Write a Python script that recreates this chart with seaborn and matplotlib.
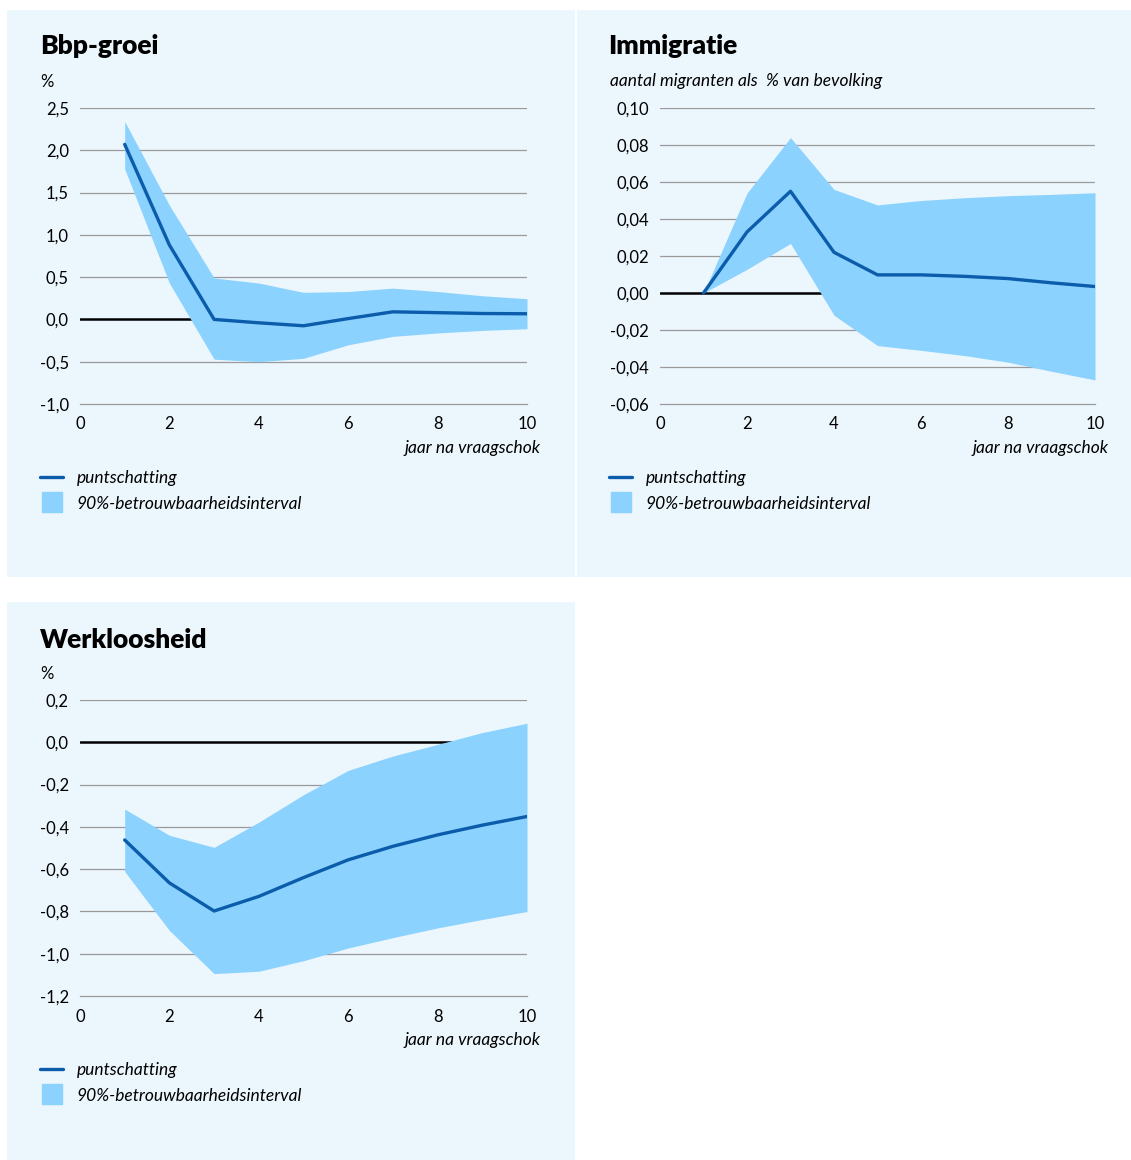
import numpy as np
import pandas as pd
import matplotlib
matplotlib.use('Agg')
import matplotlib.pyplot as plt
from matplotlib.patches import Rectangle
from matplotlib.lines import Line2D
import seaborn as sns

# data
jaar = [1, 2, 3, 4, 5, 6, 7, 8, 9, 10]

bbp_punt = [2.07, 0.88, 0.00, -0.04, -0.075, 0.01, 0.09, 0.08, 0.07, 0.067]
bbp_hoog = [2.34, 1.35, 0.49, 0.43, 0.32, 0.33, 0.37, 0.33, 0.28, 0.245]
bbp_laag = [1.78, 0.43, -0.47, -0.50, -0.46, -0.30, -0.20, -0.16, -0.13, -0.11]

imm_punt = [0.0, 0.033, 0.055, 0.022, 0.0098, 0.0098, 0.009, 0.0078, 0.0055, 0.0035]
imm_hoog = [0.0, 0.054, 0.084, 0.056, 0.0476, 0.050, 0.0515, 0.0526, 0.0533, 0.0542]
imm_laag = [0.0, 0.0128, 0.0268, -0.012, -0.0284, -0.031, -0.0338, -0.0374, -0.0423, -0.047]

wkl_punt = [-0.462, -0.665, -0.798, -0.729, -0.64, -0.556, -0.492, -0.438, -0.392, -0.351]
wkl_hoog = [-0.316, -0.44, -0.497, -0.378, -0.248, -0.133, -0.065, -0.01, 0.046, 0.09]
wkl_laag = [-0.611, -0.89, -1.094, -1.083, -1.033, -0.973, -0.924, -0.878, -0.838, -0.80]

x_ticks = [0, 2, 4, 6, 8, 10]
bbp_yticks = [2.5, 2.0, 1.5, 1.0, 0.5, 0.0, -0.5, -1.0]
bbp_ylabels = ['2,5', '2,0', '1,5', '1,0', '0,5', '0,0', '-0,5', '-1,0']
imm_yticks = [0.10, 0.08, 0.06, 0.04, 0.02, 0.0, -0.02, -0.04, -0.06]
imm_ylabels = ['0,10', '0,08', '0,06', '0,04', '0,02', '0,00', '-0,02', '-0,04', '-0,06']
wkl_yticks = [0.2, 0.0, -0.2, -0.4, -0.6, -0.8, -1.0, -1.2]
wkl_ylabels = ['0,2', '0,0', '-0,2', '-0,4', '-0,6', '-0,8', '-1,0', '-1,2']

sns.set_style('white')
plt.rcParams['font.family'] = ['Lato', 'DejaVu Sans']
plt.rcParams['text.color'] = 'black'
plt.rcParams['xtick.color'] = 'black'
plt.rcParams['ytick.color'] = 'black'

LINE = '#0B5CAB'
BAND = '#8BD2FE'
BG = '#EBF6FD'
GRID = '#9A9A9A'

W, H = 1131, 1160
fig = plt.figure(figsize=(W / 100, H / 100), dpi=100)


def px(x, y):
    return x / W, 1 - y / H


# panel backgrounds
for (x0, y0, x1, y1) in [(7, 10, 575, 577), (577, 10, 1131, 577), (7, 602, 575, 1160)]:
    fig.patches.append(Rectangle((x0 / W, 1 - y1 / H), (x1 - x0) / W, (y1 - y0) / H,
                                 transform=fig.transFigure, facecolor=BG,
                                 edgecolor='none', zorder=-5))


def panel(rect_px, punt, hoog, laag, yticks, ylabels):
    left, top, right, bottom = rect_px
    ax = fig.add_axes([left / W, 1 - bottom / H, (right - left) / W, (bottom - top) / H])
    ax.set_zorder(2)
    ax.patch.set_alpha(0)
    for yv in yticks[:-1]:
        if yv == 0:
            ax.axhline(0, color='black', lw=1.8, zorder=1)
        else:
            ax.axhline(yv, color=GRID, lw=0.9, zorder=1)
    ax.fill_between(jaar, laag, hoog, color=BAND, lw=0, zorder=2)
    df = pd.DataFrame({'jaar': jaar, 'waarde': punt})
    sns.lineplot(data=df, x='jaar', y='waarde', ax=ax, color=LINE, lw=2.4, zorder=3)
    ax.set_xlim(0, 10)
    ax.set_ylim(yticks[-1], yticks[0])
    ax.set_xticks(x_ticks)
    ax.set_xticklabels([str(t) for t in x_ticks], fontsize=12)
    ax.set_yticks(yticks)
    ax.set_yticklabels(ylabels, fontsize=12)
    ax.set_xlabel('')
    ax.set_ylabel('')
    for s in ['left', 'right', 'top']:
        ax.spines[s].set_visible(False)
    ax.spines['bottom'].set_color(GRID)
    ax.spines['bottom'].set_linewidth(0.9)
    ax.tick_params(axis='x', direction='out', length=6, width=0.9, color=GRID, pad=3)
    ax.tick_params(axis='y', length=0, pad=8)
    return ax


def legend(x, y):
    handles = [Line2D([], [], color=LINE, lw=2.4),
               Line2D([], [], color=BAND, marker='s', markersize=15, linestyle='none')]
    labels = ['puntschatting', '90%-betrouwbaarheidsinterval']
    fig.legend(handles, labels, loc='upper left', bbox_to_anchor=px(x, y),
               frameon=False, prop={'style': 'italic', 'size': 12.5},
               handlelength=1.35, handletextpad=0.75, labelspacing=0.55,
               borderaxespad=0, borderpad=0)


# Bbp-groei
panel((80, 108, 527, 404), bbp_punt, bbp_hoog, bbp_laag, bbp_yticks, bbp_ylabels)
fig.text(*px(40, 46), 'Bbp-groei', fontsize=19, weight='heavy', va='center')
fig.text(*px(40, 82), '%', fontsize=12, va='center')
fig.text(*px(541, 448), 'jaar na vraagschok', fontsize=12.5, style='italic', ha='right', va='center')
legend(40, 470)

# Immigratie
panel((660, 108, 1095, 404), imm_punt, imm_hoog, imm_laag, imm_yticks, imm_ylabels)
fig.text(*px(608, 46), 'Immigratie', fontsize=19, weight='heavy', va='center')
fig.text(*px(610, 81), 'aantal migranten als  % van bevolking', fontsize=12.5, style='italic', va='center')
fig.text(*px(1109, 448), 'jaar na vraagschok', fontsize=12.5, style='italic', ha='right', va='center')
legend(609, 470)

# Werkloosheid
panel((80, 700, 527, 996), wkl_punt, wkl_hoog, wkl_laag, wkl_yticks, wkl_ylabels)
fig.text(*px(40, 640), 'Werkloosheid', fontsize=19, weight='heavy', va='center')
fig.text(*px(40, 674), '%', fontsize=12, va='center')
fig.text(*px(541, 1040), 'jaar na vraagschok', fontsize=12.5, style='italic', ha='right', va='center')
legend(40, 1062)

fig.savefig('out.png', dpi=100, facecolor='white')
